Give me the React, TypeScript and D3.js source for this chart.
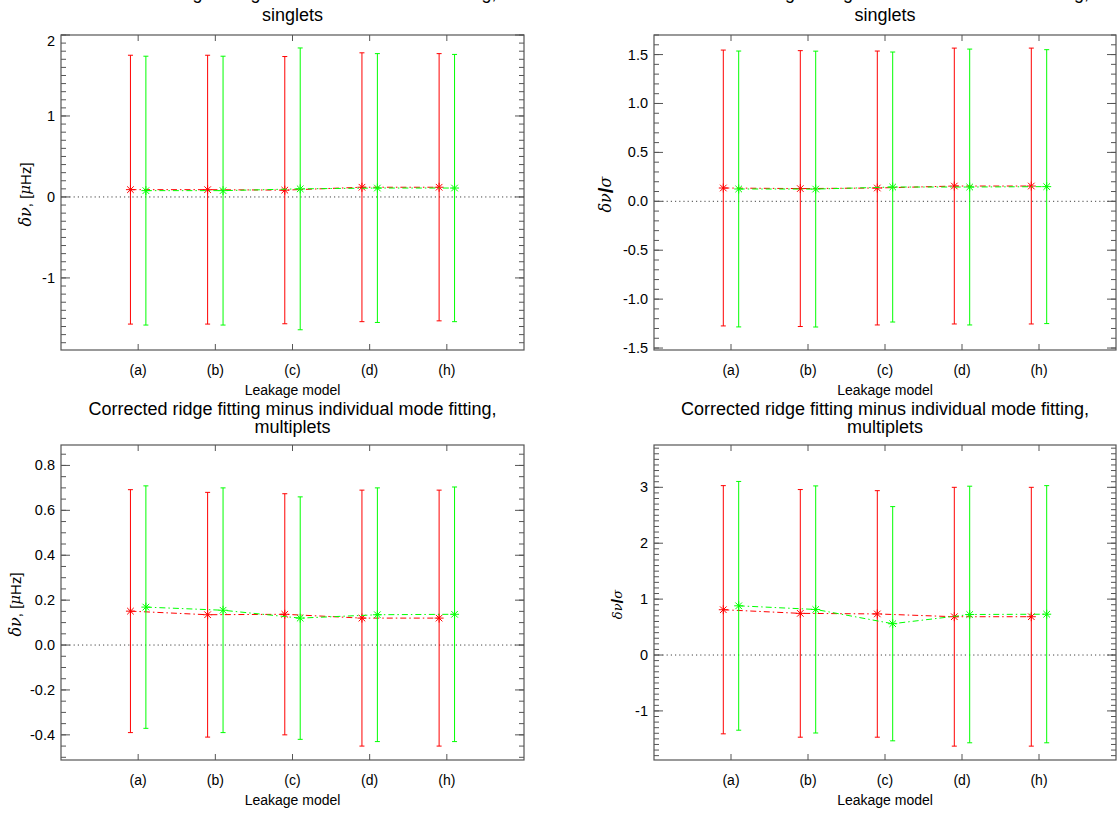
import React from 'react'
import * as d3 from 'd3'

// leakage models on the x axis
const models = ['(a)', '(b)', '(c)', '(d)', '(h)']

// singlets, frequency difference in muHz
const sMuRed = [0.09, 0.09, 0.084, 0.12, 0.12]
const sMuRedErr = [1.66, 1.66, 1.65, 1.66, 1.65]
const sMuGreen = [0.078, 0.078, 0.1, 0.11, 0.11]
const sMuGreenErr = [1.66, 1.66, 1.74, 1.66, 1.65]

// singlets, normalised by sigma
const sSigRed = [0.136, 0.13, 0.136, 0.156, 0.156]
const sSigRedErr = [1.41, 1.41, 1.4, 1.41, 1.41]
const sSigGreen = [0.126, 0.125, 0.146, 0.146, 0.15]
const sSigGreenErr = [1.41, 1.41, 1.38, 1.41, 1.4]

// multiplets, muHz
const mMuRed = [0.151, 0.135, 0.137, 0.12, 0.12]
const mMuRedErr = [0.541, 0.545, 0.537, 0.57, 0.57]
const mMuGreen = [0.169, 0.155, 0.12, 0.135, 0.137]
const mMuGreenErr = [0.54, 0.545, 0.54, 0.565, 0.567]

// multiplets, normalised by sigma
const mSigRed = [0.81, 0.745, 0.735, 0.685, 0.685]
const mSigRedErr = [2.22, 2.215, 2.205, 2.315, 2.315]
const mSigGreen = [0.88, 0.815, 0.56, 0.725, 0.73]
const mSigGreenErr = [2.225, 2.21, 2.095, 2.295, 2.3]

const FONT = '"Liberation Sans", Arial, Helvetica, sans-serif'
const SERIF = '"DejaVu Serif", "Liberation Serif", serif'
const RED = '#ff0000'
const GREEN = '#00ff00'
const AXIS = '#555'

function rng(lo, hi, step) {
  const out = []
  for (let k = Math.ceil(lo / step - 1e-6); k <= Math.floor(hi / step + 1e-6); k++) out.push(+(k * step).toFixed(6))
  return out
}

function Star({ x, y, color }) {
  const s = 4.5
  const d = 3.3
  return (
    <path
      d={`M${x - s},${y}H${x + s}M${x},${y - s}V${y + s}M${x - d},${y - d}L${x + d},${y + d}M${x - d},${y + d}L${x + d},${y - d}`}
      stroke={color}
      strokeWidth={1}
      fill="none"
    />
  )
}

function Series({ x, y, vals, errs, offset, color }) {
  const line = d3.line().x(d => d[0]).y(d => d[1])
  const pts = vals.map((v, i) => [x(i + 1 + offset), y(v)])
  return (
    <g>
      <path d={line(pts)} fill="none" stroke={color} strokeWidth={1} strokeDasharray="6,3,1.5,3" />
      {vals.map((v, i) => {
        const cx = x(i + 1 + offset)
        return (
          <g key={i}>
            <line x1={cx} x2={cx} y1={y(v + errs[i])} y2={y(v - errs[i])} stroke={color} strokeWidth={1} />
            <line x1={cx - 2.5} x2={cx + 2.5} y1={y(v + errs[i])} y2={y(v + errs[i])} stroke={color} />
            <line x1={cx - 2.5} x2={cx + 2.5} y1={y(v - errs[i])} y2={y(v - errs[i])} stroke={color} />
            <Star x={cx} y={y(v)} color={color} />
          </g>
        )
      })}
    </g>
  )
}

function YLabel({ kind, x, y, size }) {
  if (kind === 'mu') {
    return (
      <text transform={`translate(${x},${y}) rotate(-90)`} textAnchor="middle" dominantBaseline="central" fontSize={size} fontFamily={FONT}>
        <tspan fontFamily={SERIF} fontStyle="italic" fontSize={size + 1}>δν</tspan>
        <tspan>, [</tspan>
        <tspan fontFamily={SERIF} fontStyle="italic">μ</tspan>
        <tspan>Hz]</tspan>
      </text>
    )
  }
  return (
    <text transform={`translate(${x},${y}) rotate(-90)`} textAnchor="middle" dominantBaseline="central" fontFamily={FONT}>
      <tspan fontFamily={SERIF} fontStyle="italic" fontSize={size}>δν</tspan>
      <tspan fontWeight="bold" fontSize={size * 1.3}>/</tspan>
      <tspan fontFamily={SERIF} fontStyle="italic" fontSize={size}>σ</tspan>
    </text>
  )
}

function Panel({ x0, x1, y0, y1, domain, major, minor, fmt, title, titleY, title2Y, label, labelX, labelSize, red, redErr, green, greenErr }) {
  const x = d3.scaleLinear().domain([0, 6]).range([x0, x1])
  const y = d3.scaleLinear().domain(domain).range([y1, y0])
  const majors = rng(domain[0], domain[1], major)
  const minors = rng(domain[0], domain[1], minor)
  const cx = (x0 + x1) / 2
  return (
    <g fontFamily={FONT}>
      <text x={cx} y={titleY} textAnchor="middle" dominantBaseline="central" fontSize={18}>
        Corrected ridge fitting minus individual mode fitting,
      </text>
      <text x={cx} y={title2Y} textAnchor="middle" dominantBaseline="central" fontSize={18}>
        {title}
      </text>

      <line x1={x0} x2={x1} y1={y(0)} y2={y(0)} stroke="#444" strokeDasharray="1.2,3" />

      <Series x={x} y={y} vals={red} errs={redErr} offset={-0.1} color={RED} />
      <Series x={x} y={y} vals={green} errs={greenErr} offset={0.1} color={GREEN} />

      <rect x={x0} y={y0} width={x1 - x0} height={y1 - y0} fill="none" stroke={AXIS} strokeWidth={1.2} />
      {minors.map(v => (
        <g key={'m' + v} stroke={AXIS}>
          <line x1={x0} x2={x0 + 5} y1={y(v)} y2={y(v)} />
          <line x1={x1} x2={x1 - 5} y1={y(v)} y2={y(v)} />
        </g>
      ))}
      {majors.map(v => (
        <g key={'M' + v}>
          <line x1={x0} x2={x0 + 9} y1={y(v)} y2={y(v)} stroke={AXIS} />
          <line x1={x1} x2={x1 - 9} y1={y(v)} y2={y(v)} stroke={AXIS} />
          <text x={x0 - 6} y={Math.max(y(v), y0 + 6)} textAnchor="end" dominantBaseline="central" fontSize={14.5}>
            {fmt(v)}
          </text>
        </g>
      ))}
      {models.map((m, i) => (
        <g key={m}>
          <line x1={x(i + 1)} x2={x(i + 1)} y1={y1} y2={y1 - 6} stroke={AXIS} />
          <line x1={x(i + 1)} x2={x(i + 1)} y1={y0} y2={y0 + 6} stroke={AXIS} />
          <text x={x(i + 1)} y={y1 + 20} textAnchor="middle" dominantBaseline="central" fontSize={14}>
            {m}
          </text>
        </g>
      ))}
      <text x={cx} y={y1 + 40} textAnchor="middle" dominantBaseline="central" fontSize={14}>
        Leakage model
      </text>
      <YLabel kind={label} x={labelX} y={(y0 + y1) / 2 + 2} size={labelSize} />
    </g>
  )
}

const fInt = v => (v < 0 ? '-' : '') + d3.format('d')(Math.abs(v))
const f1 = v => (v < 0 ? '-' : '') + d3.format('.1f')(Math.abs(v))

export default function App() {
  return (
    <div style={{ position: 'absolute', left: 0, top: 0 }}>
      <svg width={1117} height={813} style={{ display: 'block', background: '#fff' }}>
        <Panel x0={61} x1={524} y0={35} y1={350} domain={[-1.89, 2.0]} major={1} minor={0.1} fmt={fInt}
          title="singlets" titleY={-7} title2Y={15} label="mu" labelX={25} labelSize={15}
          red={sMuRed} redErr={sMuRedErr} green={sMuGreen} greenErr={sMuGreenErr} />
        <Panel x0={654} x1={1116} y0={35} y1={350} domain={[-1.52, 1.7]} major={0.5} minor={0.1} fmt={f1}
          title="singlets" titleY={-7} title2Y={15} label="sig" labelX={605} labelSize={16}
          red={sSigRed} redErr={sSigRedErr} green={sSigGreen} greenErr={sSigGreenErr} />
        <Panel x0={61} x1={524} y0={445} y1={760} domain={[-0.512, 0.891]} major={0.2} minor={0.05} fmt={f1}
          title="multiplets" titleY={409} title2Y={427} label="mu" labelX={15} labelSize={15}
          red={mMuRed} redErr={mMuRedErr} green={mMuGreen} greenErr={mMuGreenErr} />
        <Panel x0={654} x1={1116} y0={445} y1={760} domain={[-1.878, 3.757]} major={1} minor={0.1} fmt={fInt}
          title="multiplets" titleY={409} title2Y={427} label="sig" labelX={617} labelSize={13}
          red={mSigRed} redErr={mSigRedErr} green={mSigGreen} greenErr={mSigGreenErr} />
      </svg>
    </div>
  )
}
